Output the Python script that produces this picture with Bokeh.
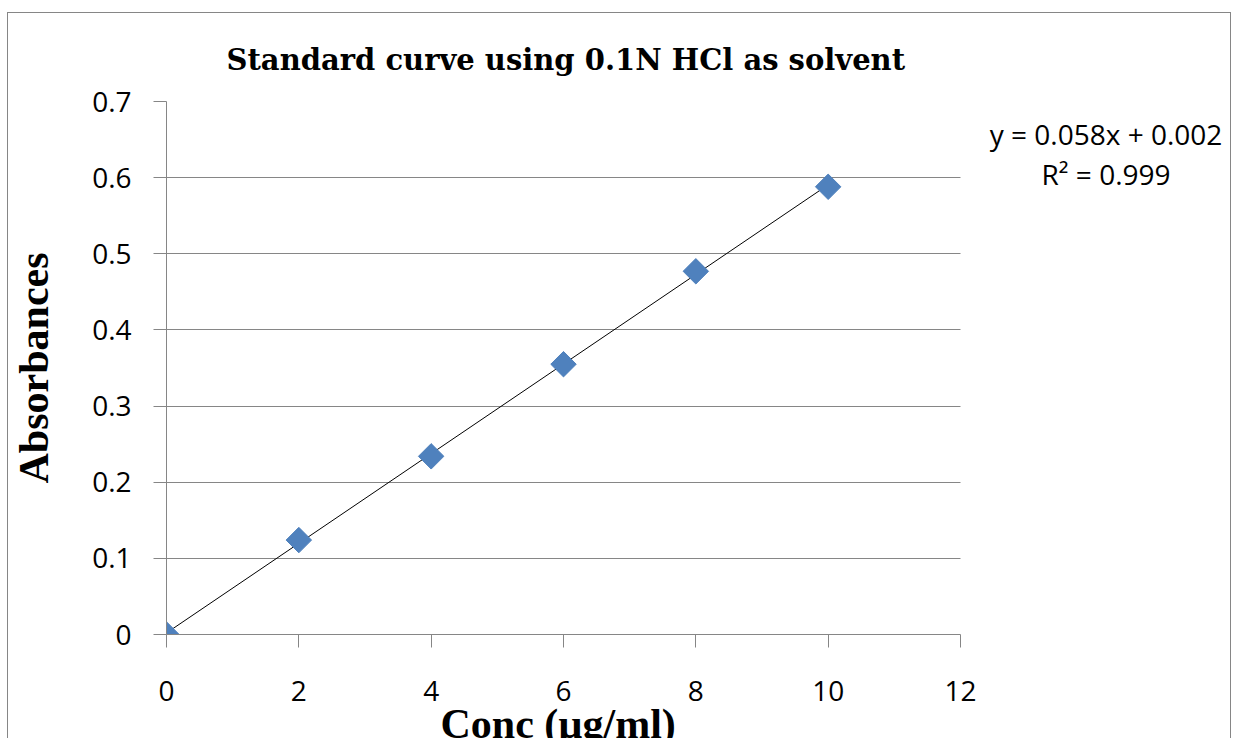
import numpy as np
from bokeh.plotting import figure
from bokeh.models import Label, Range1d, FixedTicker, Title
from bokeh.embed import file_html
from bokeh.resources import INLINE

# Data
conc = [0, 2, 4, 6, 8, 10]
absorb = [0.0, 0.124, 0.234, 0.355, 0.477, 0.588]
x_ticks = [0, 2, 4, 6, 8, 10, 12]
y_ticks = [0, 0.1, 0.2, 0.3, 0.4, 0.5, 0.6, 0.7]
x_axis_max = 12
equation_text = "y = 0.058x + 0.002"
r2_text = "R\u00b2 = 0.999"

slope, intercept = np.polyfit(conc, absorb, 1)
fit_x = [min(conc), max(conc)]
fit_y = [slope * v + intercept for v in fit_x]

# frame runs to the right edge so the equation text sits inside it;
# axis and grid lines stop at x = 12
frame_px_per_unit = 794 / x_axis_max
x_view_max = 1066 / frame_px_per_unit

p = figure(width=1224, height=746, output_backend="svg", toolbar_location=None,
           x_range=Range1d(0, x_view_max), y_range=Range1d(0, 0.7),
           min_border_left=158, min_border_right=0,
           min_border_top=88, min_border_bottom=125,
           styles={"border": "1px solid #868686", "border-bottom": "none",
                   "margin-top": "12px", "margin-left": "7px"})

p.title.text = "Standard curve using 0.1N HCl as solvent"
p.title.align = "left"
p.title.text_font = "DejaVu Serif"
p.title.text_font_size = "29px"
p.title.text_font_style = "bold"
p.title.text_color = "#000000"
p.title.offset = 60
p.title.standoff = 49

p.outline_line_color = None
p.background_fill_color = "white"
p.border_fill_color = "white"

p.xgrid.grid_line_color = None
p.ygrid.grid_line_color = "#868686"
p.ygrid.grid_line_width = 1
p.ygrid.cross_bounds = (0, x_axis_max)

p.xaxis.ticker = FixedTicker(ticks=x_ticks)
p.xaxis.bounds = (0, x_axis_max)
p.yaxis.ticker = FixedTicker(ticks=y_ticks)
p.yaxis.major_label_overrides = {0: "0"}

for ax in (p.xaxis, p.yaxis):
    ax.axis_line_color = "#868686"
    ax.major_tick_line_color = "#868686"
    ax.major_tick_out = 13
    ax.major_tick_in = 0
    ax.minor_tick_line_color = None
    ax.major_label_text_font = "Open Sans"
    ax.major_label_text_font_size = "28px"
    ax.major_label_text_color = "#000000"
    ax.axis_label_text_font = "Liberation Serif"
    ax.axis_label_text_font_style = "bold"
    ax.axis_label_text_color = "#000000"

p.xaxis.major_label_standoff = 33

p.yaxis.axis_label = "Absorbances"
p.yaxis.axis_label_text_font_size = "42px"
p.yaxis.major_label_standoff = 22
p.yaxis.axis_label_standoff = 32

# x axis title, placed under the axis and aligned to the plotted span
p.add_layout(Title(text="Conc (\u00b5g/ml)", align="left", offset=274,
                   standoff=-10, text_font="Liberation Serif",
                   text_font_size="42px", text_font_style="bold",
                   text_color="#000000"), "below")

p.line(fit_x, fit_y, line_color="#000000", line_width=1)
p.scatter(conc, absorb, marker="square", angle=np.pi / 4, size=18,
          fill_color="#4F81BD", line_color="#4F81BD")

p.add_layout(Label(x=14.2, y=0.657, text=equation_text, text_align="center",
                   text_baseline="middle", text_font="Open Sans",
                   text_font_size="28px", text_color="#000000"))
p.add_layout(Label(x=14.2, y=0.605, text=r2_text, text_align="center",
                   text_baseline="middle", text_font="Open Sans",
                   text_font_size="28px", text_color="#000000"))

open("out.html", "w").write(file_html(p, INLINE))
